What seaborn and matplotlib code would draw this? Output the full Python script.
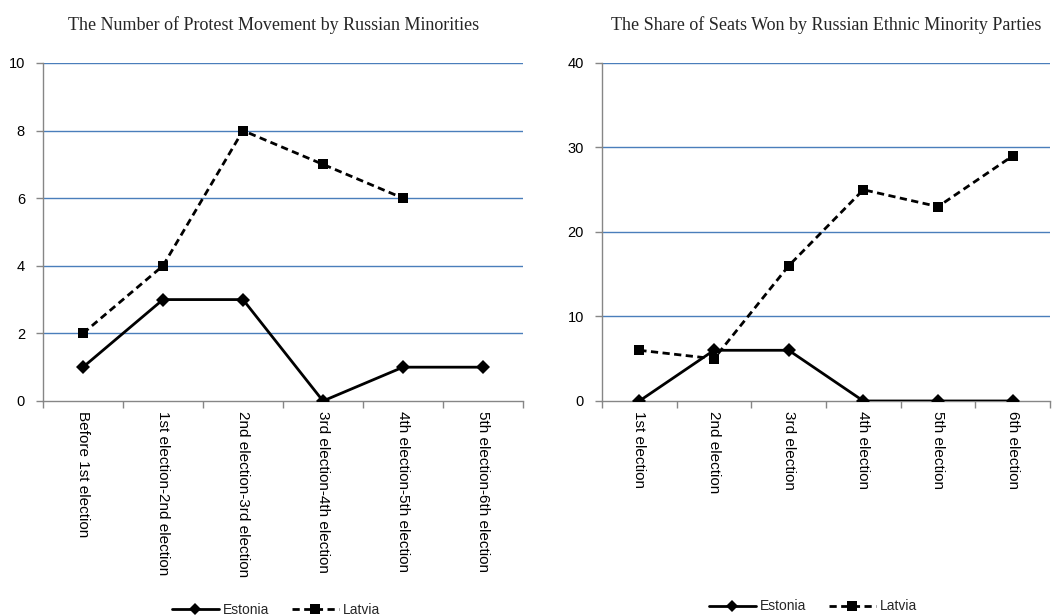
import numpy as np
import pandas as pd
import matplotlib
matplotlib.use("Agg")
import matplotlib.pyplot as plt
from matplotlib.lines import Line2D
from matplotlib.ticker import FixedLocator, NullFormatter
import seaborn as sns

# Protest movements between elections
protest_periods = [
    "Before 1st election",
    "1st election-2nd election",
    "2nd election-3rd election",
    "3rd election-4th election",
    "4th election-5th election",
    "5th election-6th election",
]
protest_estonia = [1, 3, 3, 0, 1, 1]
protest_latvia = [2, 4, 8, 7, 6, np.nan]

# Seat share of Russian ethnic minority parties
seat_elections = [
    "1st election",
    "2nd election",
    "3rd election",
    "4th election",
    "5th election",
    "6th election",
]
seats_estonia = [0, 6, 6, 0, 0, 0]
seats_latvia = [6, 5, 16, 25, 23, 29]

countries = ["Estonia", "Latvia"]

sns.set_theme(style="white")
plt.rcParams["font.family"] = ["Liberation Sans", "DejaVu Sans"]

GRID = "#4A7EBB"
AXIS = "#868686"


def long_frame(labels, est, lat):
    pos = np.arange(len(labels))
    return pd.DataFrame({
        "pos": np.concatenate([pos, pos]),
        "value": np.concatenate([est, lat]),
        "country": ["Estonia"] * len(labels) + ["Latvia"] * len(labels),
    }).dropna()


def draw_panel(ax, title, labels, est, lat, ymax, ystep, title_x=0.5):
    df = long_frame(labels, est, lat)
    sns.lineplot(
        data=df, x="pos", y="value", style="country", ax=ax,
        color="black", linewidth=2,
        markers={"Estonia": "D", "Latvia": "s"},
        dashes={"Estonia": "", "Latvia": (2.6, 1.6)},
        markersize=7, markeredgewidth=0, legend=False,
        style_order=countries, zorder=3,
    )
    n = len(labels)
    ax.set_xlim(-0.5, n - 0.5)
    ax.set_ylim(0, ymax)
    yt = np.arange(0, ymax + ystep / 2, ystep)
    ax.set_yticks(yt)
    ax.set_yticklabels([f"{int(v)}" for v in yt], fontsize=10.5, color="black")
    for v in yt[1:]:
        ax.axhline(v, color=GRID, linewidth=1.0, zorder=1)
    ax.set_xticks(np.arange(n))
    ax.set_xticklabels(labels, rotation=-90, fontsize=11, color="black",
                       va="top", ha="center")
    ax.xaxis.set_minor_locator(FixedLocator(np.arange(n + 1) - 0.5))
    ax.xaxis.set_minor_formatter(NullFormatter())
    ax.tick_params(axis="x", which="major", length=0, pad=7)
    ax.tick_params(axis="x", which="minor", length=5, color=AXIS, width=1,
                   direction="out", bottom=True)
    ax.tick_params(axis="y", length=5, color=AXIS, width=1, direction="out",
                   left=True, pad=8)
    for side in ["top", "right"]:
        ax.spines[side].set_visible(False)
    for side in ["left", "bottom"]:
        ax.spines[side].set_color(AXIS)
        ax.spines[side].set_linewidth(1)
    ax.set_xlabel("")
    ax.set_ylabel("")
    ax.set_title(title, fontsize=13, family="Liberation Serif", pad=24,
                 x=title_x)


fig = plt.figure(figsize=(10.53, 6.15), dpi=100)
ax1 = fig.add_axes([0.0408, 0.348, 0.4559, 0.5496])
ax2 = fig.add_axes([0.5717, 0.348, 0.4255, 0.5496])

draw_panel(ax1, "The Number of Protest Movement by Russian Minorities",
           protest_periods, protest_estonia, protest_latvia, 10, 2,
           title_x=0.48)
draw_panel(ax2, "The Share of Seats Won by Russian Ethnic Minority Parties",
           seat_elections, seats_estonia, seats_latvia, 40, 10)

handles = [
    Line2D([], [], color="black", linewidth=2, marker="D", markersize=6,
           markeredgewidth=0, label="Estonia"),
    Line2D([], [], color="black", linewidth=2, linestyle=(0, (2.6, 1.6)),
           marker="s", markersize=7, markeredgewidth=0, label="Latvia"),
]
fig.legend(handles=handles, loc="center", bbox_to_anchor=(0.262, 0.008),
           ncol=2, frameon=False, fontsize=10, handlelength=3.4,
           columnspacing=1.6, handletextpad=0.3)
fig.legend(handles=handles, loc="center", bbox_to_anchor=(0.772, 0.014),
           ncol=2, frameon=False, fontsize=10, handlelength=3.4,
           columnspacing=1.6, handletextpad=0.3)

fig.savefig("out.png", dpi=100)
